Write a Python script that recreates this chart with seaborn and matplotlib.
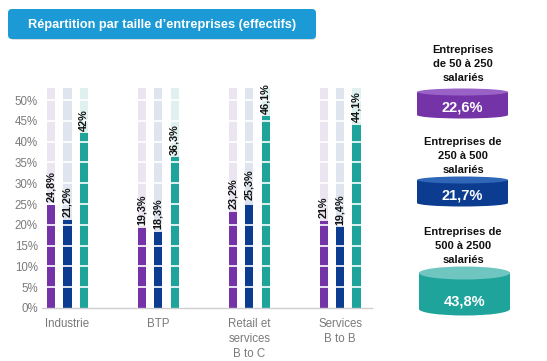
import matplotlib
matplotlib.use("Agg")
import matplotlib.pyplot as plt
from matplotlib.patches import FancyBboxPatch, Rectangle, Ellipse
import numpy as np
import pandas as pd
import seaborn as sns

# --- data ---
sectors = ["Industrie", "BTP", "Retail et\nservices\nB to C", "Services\nB to B"]
size_classes = ["50-250", "250-500", "500-2500"]
share_50_250 = [24.8, 19.3, 23.2, 21.0]
share_250_500 = [21.2, 18.3, 25.3, 19.4]
share_500_2500 = [42.0, 36.3, 46.1, 44.1]
bar_labels_50_250 = ["24,8%", "19,3%", "23,2%", "21%"]
bar_labels_250_500 = ["21,2%", "18,3%", "25,3%", "19,4%"]
bar_labels_500_2500 = ["42%", "36,3%", "46,1%", "44,1%"]
y_ticks = [0, 5, 10, 15, 20, 25, 30, 35, 40, 45, 50]

overall_titles = ["Entreprises\nde 50 à 250\nsalariés",
                  "Entreprises de\n250 à 500\nsalariés",
                  "Entreprises de\n500 à 2500\nsalariés"]
overall_values = ["22,6%", "21,7%", "43,8%"]

colors = ["#7434a8", "#0b3c8f", "#1fa49b"]
light_colors = ["#ebe5f2", "#dfe5ee", "#dff0ef"]
cyl_tops = ["#9a62c6", "#2f66b8", "#6fc6c0"]

df = pd.DataFrame({
    "sector": np.repeat(sectors, 3),
    "size": size_classes * len(sectors),
    "share": np.array([share_50_250, share_250_500, share_500_2500]).T.ravel(),
})
df_bg = df.assign(share=53.0)

plt.rcParams["font.family"] = ["Liberation Sans", "DejaVu Sans"]

fig = plt.figure(figsize=(5.47, 3.61), dpi=100)
W, H = 547, 361

# overlay axes in pixel coordinates for title box and cylinders
ov = fig.add_axes([0, 0, 1, 1])
ov.set_xlim(0, W)
ov.set_ylim(H, 0)
ov.axis("off")

ov.add_patch(FancyBboxPatch((10, 11), 306, 29, boxstyle="round,pad=0,rounding_size=4",
                            facecolor="#c8c8c8", edgecolor="none", alpha=0.6, zorder=1))
ov.add_patch(FancyBboxPatch((8, 9), 308, 30, boxstyle="round,pad=0,rounding_size=4",
                            facecolor="#1b9ad6", edgecolor="none", zorder=2))
ov.text(162, 25, "Répartition par taille d\u2019entreprises (effectifs)", color="white",
        fontsize=9.2, fontweight="bold", ha="center", va="center", zorder=3)

# main bar chart
ax = fig.add_axes([42 / W, (H - 308) / H, (372 - 42) / W, (308 - 86) / H])
sns.barplot(data=df_bg, x="sector", y="share", hue="size", order=sectors,
            hue_order=size_classes, palette=light_colors, width=0.54, gap=0.5,
            saturation=1, dodge=True, ax=ax, legend=False, zorder=1)
sns.barplot(data=df, x="sector", y="share", hue="size", order=sectors,
            hue_order=size_classes, palette=colors, width=0.54, gap=0.5,
            saturation=1, dodge=True, ax=ax, legend=False, zorder=2)

# background bars are the first 12 patches, values bars the next 12
value_patches = ax.patches[len(ax.patches) // 2:]
all_labels = [bar_labels_50_250, bar_labels_250_500, bar_labels_500_2500]
for k, p in enumerate(value_patches):
    h_idx, s_idx = divmod(k, len(sectors))
    ax.text(p.get_x() + p.get_width() / 2, p.get_height() + 0.6,
            all_labels[h_idx][s_idx], rotation=90, ha="center", va="bottom",
            fontsize=7.8, fontweight="bold", color="#111111", zorder=4)

for y in y_ticks[1:]:
    ax.axhline(y, color="white", linewidth=1.2, zorder=3)

ax.set_ylim(0, 53.4)
ax.set_xlim(-0.28, 3.35)
ax.set_yticks(y_ticks)
ax.set_yticklabels([f"{v}%" for v in y_ticks])
ax.set_xticks(range(len(sectors)))
ax.set_xticklabels(sectors, linespacing=1.35)
ax.set_xlabel("")
ax.set_ylabel("")
ax.tick_params(axis="both", length=0, colors="#7a7a7a", labelsize=8.3)
ax.tick_params(axis="y", pad=3)
ax.tick_params(axis="x", pad=7)
for s in ["top", "right", "left"]:
    ax.spines[s].set_visible(False)
ax.spines["bottom"].set_color("#cfcfcf")
ax.spines["bottom"].set_linewidth(1)
ax.set_facecolor("none")
ax.grid(False)


def cylinder(x0, x1, ytop, ybot, eh, body, top, value, vy):
    cx = (x0 + x1) / 2
    w = x1 - x0
    ov.add_patch(Ellipse((cx, ybot), w, eh, facecolor=body, edgecolor="none", zorder=2))
    ov.add_patch(Rectangle((x0, ytop), w, ybot - ytop, facecolor=body, edgecolor="none", zorder=2))
    ov.add_patch(Ellipse((cx, ytop), w, eh, facecolor=top, edgecolor="none", zorder=3))
    ov.text(cx, vy, value, color="white", fontsize=10.5, fontweight="bold",
            ha="center", va="center", zorder=4)


cyl_geom = [(417, 508, 92, 115, 7, 108), (417, 508, 180, 203, 7, 196), (419, 510, 273, 309, 13, 302)]
title_y = [64, 156, 246]
for i in range(3):
    ov.text(463, title_y[i], overall_titles[i], fontsize=8, fontweight="bold",
            ha="center", va="center", color="#111111", linespacing=1.5)
    x0, x1, yt, yb, eh, vy = cyl_geom[i]
    cylinder(x0, x1, yt, yb, eh, colors[i], cyl_tops[i], overall_values[i], vy)

fig.savefig("out.png", dpi=100)
